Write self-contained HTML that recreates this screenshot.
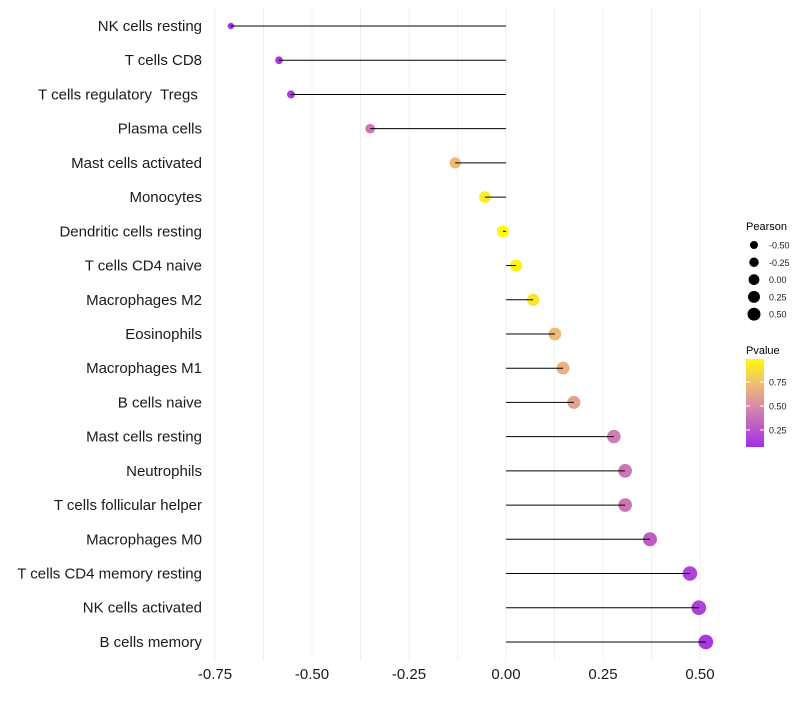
<!DOCTYPE html>
<html><head><meta charset="utf-8"><style>
body{margin:0;background:#fff;font-family:"Liberation Sans",sans-serif}
text{white-space:pre}
</style></head><body>
<svg id="c" width="800" height="700" xmlns="http://www.w3.org/2000/svg" font-family="Liberation Sans, sans-serif"></svg>
<script>
const categories=["NK cells resting","T cells CD8","T cells regulatory  Tregs ","Plasma cells","Mast cells activated","Monocytes","Dendritic cells resting","T cells CD4 naive","Macrophages M2","Eosinophils","Macrophages M1","B cells naive","Mast cells resting","Neutrophils","T cells follicular helper","Macrophages M0","T cells CD4 memory resting","NK cells activated","B cells memory"];
const pearson=[-0.709,-0.585,-0.554,-0.35,-0.131,-0.054,-0.008,0.026,0.07,0.126,0.147,0.175,0.278,0.307,0.307,0.371,0.474,0.497,0.515];
const pvalue=[0.07,0.12,0.12,0.42,0.72,0.92,0.99,0.95,0.9,0.72,0.68,0.62,0.45,0.42,0.42,0.3,0.18,0.16,0.12];
const xTicks=[-0.75,-0.5,-0.25,0,0.25,0.5];
const xTickLabels=["-0.75","-0.50","-0.25","0.00","0.25","0.50"];
const sizeLegend=[-0.5,-0.25,0,0.25,0.5];
const sizeLegendLabels=["-0.50","-0.25","0.00","0.25","0.50"];
const pTicks=[0.75,0.5,0.25];
const NS="http://www.w3.org/2000/svg",svg=document.getElementById('c');
const x=v=>506+v*388, y=i=>26+i*34.22;
const r=v=>Math.sqrt(Math.max(3,36+36*v));
function col(p){const st=[[0,[155,31,240]],[0.5,[214,135,170]],[0.75,[240,192,112]],[1,[255,255,0]]];
 for(let k=1;k<st.length;k++){if(p<=st[k][0]){const [a,ca]=st[k-1],[b,cb]=st[k];const t=(p-a)/(b-a);return 'rgb('+ca.map((c,j)=>Math.round(c+(cb[j]-c)*t)).join(',')+')';}}return 'rgb(255,255,0)';}
function el(t,a,p){const e=document.createElementNS(NS,t);for(const k in a)e.setAttribute(k,a[k]);(p||svg).appendChild(e);return e;}
for(let v=-0.75;v<=0.51;v+=0.125){const g=el('line',{x1:x(v),x2:x(v),y1:8,y2:660,stroke:'#f0f0f0','stroke-width':1});

}
categories.forEach((c,i)=>{
 const t=el('text',{x:202,y:y(i)+5,'text-anchor':'end','font-size':15,fill:'#1a1a1a'});t.textContent=c;
 
 
 const pt=el('circle',{cx:x(pearson[i]),cy:y(i),r:r(pearson[i]),fill:col(pvalue[i])});
 
 
 const ln=el('line',{x1:x(0),x2:x(pearson[i]),y1:y(i),y2:y(i),stroke:'#000','stroke-width':1});
 
 
});
xTicks.forEach((v,i)=>{const t=el('text',{x:x(v),y:679,'text-anchor':'middle','font-size':15,fill:'#1a1a1a'});t.textContent=xTickLabels[i];

});
const lt=el('text',{x:746,y:230,'font-size':11,fill:'#000'});lt.textContent='Pearson';


sizeLegend.forEach((v,i)=>{const cy=245+i*17.3;
 const c=el('circle',{cx:754,cy:cy,r:Math.sqrt(16+ (v+0.5)*26),fill:'#000'});
 
 
 const t=el('text',{x:769,y:cy+3.5,'font-size':9,fill:'#1a1a1a'});t.textContent=sizeLegendLabels[i];
 
 });
const pt2=el('text',{x:746,y:354,'font-size':11,fill:'#000'});pt2.textContent='Pvalue';


const defs=el('defs',{});const lg=el('linearGradient',{id:'g',x1:0,y1:1,x2:0,y2:0},defs);
[[0,0.07],[0.45,0.5],[0.73,0.75],[1,0.98]].forEach(([o,p])=>el('stop',{offset:o,'stop-color':col(p)},lg));
const bar=el('rect',{x:746,y:359,width:18,height:88,fill:'url(#g)'});


pTicks.forEach(p=>{const cy=454-p*96;
 el('line',{x1:746,x2:750,y1:cy,y2:cy,stroke:'#fff'});el('line',{x1:760,x2:764,y1:cy,y2:cy,stroke:'#fff'});
 const t=el('text',{x:769,y:cy+3.5,'font-size':9,fill:'#1a1a1a'});t.textContent=p.toFixed(2);
 
 });
</script>
</body></html>
